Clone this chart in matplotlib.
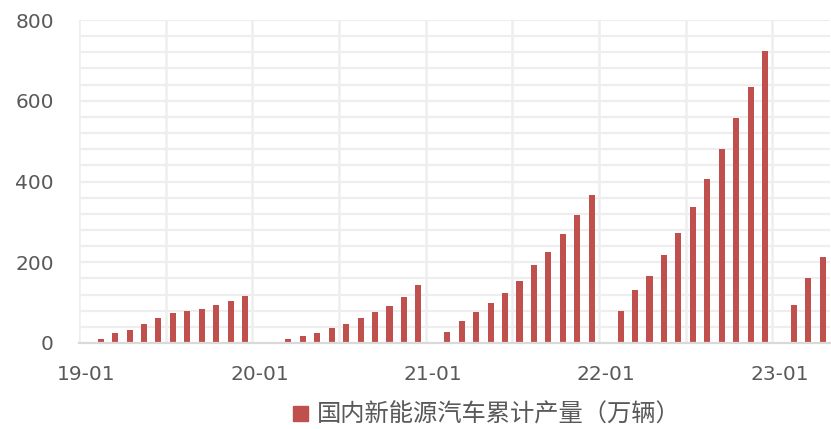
import numpy as np
import matplotlib.pyplot as plt
from matplotlib.patches import Patch

plt.rcParams['font.family'] = ['DejaVu Sans', 'Noto Sans CJK SC']

# 国内新能源汽车累计产量（万辆），每年1月无数据
months = [f"{y:02d}-{m:02d}" for y in range(19, 24) for m in range(1, 13)][:52]
y2019 = [np.nan, 10, 25, 32, 47, 62, 74, 80, 84, 95, 103, 117]
y2020 = [np.nan, 3, 10, 17, 25, 36, 47, 62, 76, 92, 114, 143]
y2021 = [np.nan, 28, 55, 77, 99, 125, 154, 192, 225, 269, 318, 366]
y2022 = [np.nan, 80, 132, 165, 218, 273, 336, 407, 480, 558, 633, 722]
y2023 = [np.nan, 95, 162, 213]
values = np.array(y2019 + y2020 + y2021 + y2022 + y2023, dtype=float)
label = "国内新能源汽车累计产量（万辆）"

bar_color = "#C0504D"
text_color = "#595959"

fig = plt.figure(figsize=(8.31, 4.29), dpi=100)
ax = fig.add_axes([79 / 831, 86 / 429, 751 / 831, 323 / 429])

x = np.arange(len(months))
mask = ~np.isnan(values)
ax.bar(x[mask], values[mask], width=0.42, color=bar_color, zorder=3)

ax.set_xlim(-0.5, len(months) - 0.5)
ax.set_ylim(0, 800)

# grid
for yy in np.arange(40, 801, 40):
    ax.axhline(yy, color="#EEEEEE", lw=1.6, zorder=1)
for xx in np.arange(-0.5, len(months), 6):
    ax.axvline(xx, color="#EEEEEE", lw=1.8, zorder=1)

for s in ["top", "right", "left"]:
    ax.spines[s].set_visible(False)
ax.spines["bottom"].set_color("#D9D9D9")
ax.spines["bottom"].set_linewidth(1.6)
ax.spines["bottom"].set_zorder(4)

ax.set_yticks([0, 200, 400, 600, 800])
ax.set_xticks(x[::12])
ax.set_xticklabels([months[i] for i in range(0, len(months), 12)])
ax.tick_params(axis="both", length=0, labelsize=14.5, labelcolor=text_color)
ax.tick_params(axis="y", pad=18)
ax.tick_params(axis="x", pad=16)

fig.legend(handles=[Patch(color=bar_color, label=label)],
           loc="center", bbox_to_anchor=(487 / 831, 1 - 415 / 429),
           frameon=False, labelcolor=text_color,
           handlelength=0.6, handleheight=0.6, handletextpad=0.4,
           prop={"family": ["Noto Sans CJK SC", "DejaVu Sans"], "size": 17.5})

fig.savefig("out.png", dpi=100)
